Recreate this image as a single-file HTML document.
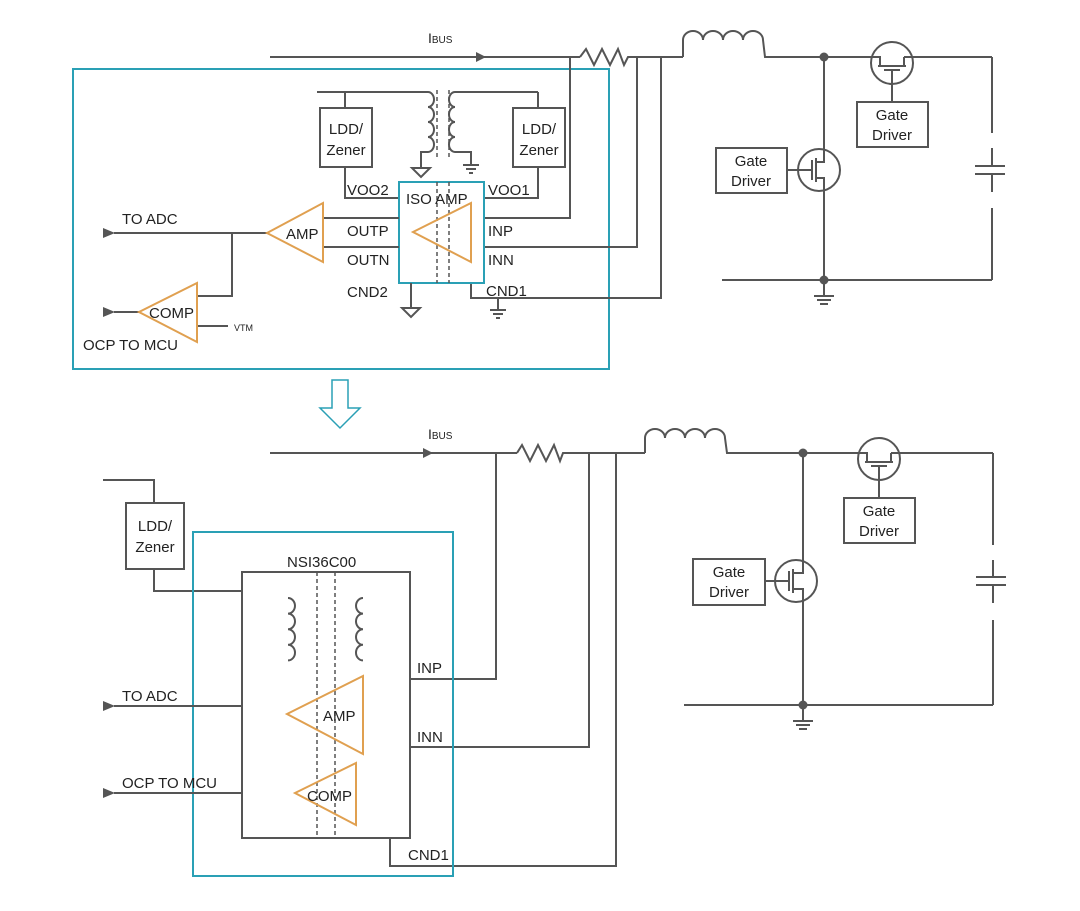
<!DOCTYPE html>
<html><head><meta charset="utf-8"><style>
html,body{margin:0;padding:0;background:#fff;}
svg{display:block;}
text{font-family:"Liberation Sans",Arial,sans-serif;fill:#222;}
</style></head><body>
<svg width="1080" height="911" viewBox="0 0 1080 911" xmlns="http://www.w3.org/2000/svg">
<defs>
<marker id="ar" markerWidth="12" markerHeight="10" refX="1" refY="5" orient="auto" markerUnits="userSpaceOnUse">
<path d="M12,0 L0,5 L12,10 z" fill="#555"/></marker>
</defs>
<g stroke="#555" stroke-width="2" fill="none">
<line x1="270" y1="57" x2="580" y2="57"/>
<path d="M476,52 L486,57 L476,62 z" fill="#555" stroke="none"/>
<path d="M580,57 L586,49 L594,65 L602,49 L610,65 L618,49 L624,65 L628,57 L683,57"/>
<path d="M683,57 L683,40 A10,9 0 0 1 703,40 A10,9 0 0 1 723,40 A10,9 0 0 1 743,40 A10,9 0 0 1 763,40 L765,57 L871,57"/>
<line x1="913" y1="57" x2="992" y2="57"/>
<line x1="992" y1="57" x2="992" y2="133"/>
<line x1="992" y1="208" x2="992" y2="280"/>
<line x1="975" y1="166" x2="1005" y2="166"/><line x1="975" y1="174" x2="1005" y2="174"/>
<line x1="992" y1="148" x2="992" y2="166"/><line x1="992" y1="174" x2="992" y2="192"/>
<line x1="722" y1="280" x2="992" y2="280"/>
<line x1="824" y1="57" x2="824" y2="149"/><line x1="824" y1="191" x2="824" y2="280"/>
<line x1="824" y1="280" x2="824" y2="296"/>
<line x1="814" y1="296" x2="834" y2="296"/><line x1="817" y1="300" x2="831" y2="300"/><line x1="820" y1="304" x2="828" y2="304"/>
<circle cx="892" cy="63" r="21"/>
<path d="M871,57 L880,57 L880,66 M904,57 L913,57 M904,57 L904,66 M878,66 L906,66 M884,70 L900,70 M892,70 L892,102"/>
<rect x="857" y="102" width="71" height="45"/>
<circle cx="819" cy="170" r="21"/>
<path d="M787,170 L812,170 M812,160 L812,180 M816,158 L816,182 M816,162 L824,162 L824,149 M816,178 L824,178 L824,191"/>
<rect x="716" y="148" width="71" height="45"/>
<rect x="73" y="69" width="536" height="300" stroke="#2aa0b5"/>
<path d="M570,57 L570,218 L484,218"/>
<path d="M637,57 L637,247 L484,247"/>
<path d="M661,57 L661,298 L471,298 L471,283"/>
<rect x="320" y="108" width="52" height="59"/>
<rect x="513" y="108" width="52" height="59"/>
<path d="M317,92 L428,92"/><path d="M455,92 L538,92"/>
<path d="M345,92 L345,108 M345,167 L345,198 L399,198"/>
<path d="M538,92 L538,108 M538,167 L538,198 L484,198"/>
<path d="M428,92 A6,7.5 0 0 1 428,107 A6,7.5 0 0 1 428,122 A6,7.5 0 0 1 428,137 A6,7.5 0 0 1 428,152"/>
<path d="M455,92 A6,7.5 0 0 0 455,107 A6,7.5 0 0 0 455,122 A6,7.5 0 0 0 455,137 A6,7.5 0 0 0 455,152"/>
<path d="M428,152 L421,152 L421,168"/><path d="M412,168 L430,168 L421,177 z"/>
<path d="M455,152 L471,152 L471,165"/>
<line x1="463" y1="165" x2="479" y2="165"/><line x1="466" y1="169" x2="476" y2="169"/><line x1="469" y1="173" x2="473" y2="173"/>
<line x1="437" y1="90" x2="437" y2="157" stroke-dasharray="4,3" stroke-width="1.5"/>
<line x1="449" y1="90" x2="449" y2="157" stroke-dasharray="4,3" stroke-width="1.5"/>
<rect x="399" y="182" width="85" height="101" stroke="#2aa0b5"/>
<line x1="437" y1="182" x2="437" y2="283" stroke-dasharray="4,3" stroke-width="1.5"/>
<line x1="449" y1="182" x2="449" y2="283" stroke-dasharray="4,3" stroke-width="1.5"/>
<path d="M411,283 L411,308"/><path d="M402,308 L420,308 L411,317 z"/>
<path d="M498,298 L498,310"/>
<line x1="490" y1="310" x2="506" y2="310"/><line x1="493" y1="314" x2="503" y2="314"/><line x1="496" y1="318" x2="500" y2="318"/>
<line x1="323" y1="218" x2="399" y2="218"/><line x1="323" y1="247" x2="399" y2="247"/>
<line x1="267" y1="233" x2="114" y2="233" marker-end="url(#ar)"/>
<path d="M232,233 L232,296 L197,296"/>
<line x1="139" y1="312" x2="114" y2="312" marker-end="url(#ar)"/>
<line x1="197" y1="326" x2="228" y2="326"/>
<path d="M332,380 L348,380 L348,408 L360,408 L340,428 L320,408 L332,408 z" stroke="#2aa0b5" stroke-width="1.5"/>

<line x1="270" y1="453" x2="517" y2="453"/>
<path d="M423,448 L433,453 L423,458 z" fill="#555" stroke="none"/>
<path d="M517,453 L522,445 L530,461 L538,445 L546,461 L554,445 L560,461 L563,453 L645,453"/>
<path d="M645,453 L645,438 A10,9 0 0 1 665,438 A10,9 0 0 1 685,438 A10,9 0 0 1 705,438 A10,9 0 0 1 725,438 L727,453 L858,453"/>
<line x1="900" y1="453" x2="993" y2="453"/>
<line x1="993" y1="453" x2="993" y2="545"/>
<line x1="993" y1="620" x2="993" y2="705"/>
<line x1="976" y1="577" x2="1006" y2="577"/><line x1="976" y1="585" x2="1006" y2="585"/>
<line x1="993" y1="560" x2="993" y2="577"/><line x1="993" y1="585" x2="993" y2="603"/>
<line x1="684" y1="705" x2="993" y2="705"/>
<line x1="803" y1="453" x2="803" y2="560"/><line x1="803" y1="602" x2="803" y2="705"/>
<line x1="803" y1="705" x2="803" y2="721"/>
<line x1="793" y1="721" x2="813" y2="721"/><line x1="796" y1="725" x2="810" y2="725"/><line x1="799" y1="729" x2="807" y2="729"/>
<circle cx="879" cy="459" r="21"/>
<path d="M858,453 L867,453 L867,462 M891,453 L900,453 M891,453 L891,462 M865,462 L893,462 M871,466 L887,466 M879,466 L879,498"/>
<rect x="844" y="498" width="71" height="45"/>
<circle cx="796" cy="581" r="21"/>
<path d="M765,581 L789,581 M789,571 L789,591 M793,569 L793,593 M793,573 L803,573 L803,560 M793,589 L803,589 L803,602"/>
<rect x="693" y="559" width="72" height="46"/>
<path d="M496,453 L496,679 L410,679"/>
<path d="M589,453 L589,747 L410,747"/>
<path d="M616,453 L616,866 L390,866 L390,838"/>
<path d="M103,480 L154,480 L154,503 M154,569 L154,591 L242,591"/>
<rect x="126" y="503" width="58" height="66"/>
<rect x="193" y="532" width="260" height="344" stroke="#2aa0b5"/>
<rect x="242" y="572" width="168" height="266"/>
<line x1="317" y1="572" x2="317" y2="838" stroke-dasharray="4,3" stroke-width="1.5"/>
<line x1="335" y1="572" x2="335" y2="838" stroke-dasharray="4,3" stroke-width="1.5"/>
<path d="M288,598 A7,7.8 0 0 1 288,613.6 A7,7.8 0 0 1 288,629.2 A7,7.8 0 0 1 288,644.8 A7,7.8 0 0 1 288,660.4"/>
<path d="M363,598 A7,7.8 0 0 0 363,613.6 A7,7.8 0 0 0 363,629.2 A7,7.8 0 0 0 363,644.8 A7,7.8 0 0 0 363,660.4"/>
<line x1="242" y1="706" x2="114" y2="706" marker-end="url(#ar)"/>
<line x1="242" y1="793" x2="114" y2="793" marker-end="url(#ar)"/>
</g>
<g fill="#555">
<circle cx="824" cy="57" r="4.5"/><circle cx="824" cy="280" r="4.5"/>
<circle cx="803" cy="453" r="4.5"/><circle cx="803" cy="705" r="4.5"/>
</g>
<g stroke="#e0a050" stroke-width="2" fill="none">
<path d="M413,232 L471,203 L471,262 z"/>
<path d="M267,233 L323,203 L323,262 z"/>
<path d="M139,312 L197,283 L197,342 z"/>
<path d="M287,714 L363,676 L363,754 z"/>
<path d="M295,793 L356,763 L356,825 z"/>
</g>
<g font-size="15">
<text x="428" y="43" font-size="14">I<tspan font-size="10">BUS</tspan></text>
<text x="346" y="134" text-anchor="middle">LDD/</text><text x="346" y="155" text-anchor="middle">Zener</text>
<text x="539" y="134" text-anchor="middle">LDD/</text><text x="539" y="155" text-anchor="middle">Zener</text>
<text x="347" y="195">VOO2</text><text x="406" y="204">ISO AMP</text><text x="488" y="195">VOO1</text>
<text x="347" y="236">OUTP</text><text x="488" y="236">INP</text>
<text x="347" y="265">OUTN</text><text x="488" y="265">INN</text>
<text x="347" y="297">CND2</text><text x="486" y="296">CND1</text>
<text x="286" y="239">AMP</text>
<text x="149" y="318">COMP</text>
<text x="234" y="331" font-size="9">VTM</text>
<text x="122" y="224">TO ADC</text>
<text x="83" y="350">OCP TO MCU</text>
<text x="892" y="120" text-anchor="middle">Gate</text><text x="892" y="140" text-anchor="middle">Driver</text>
<text x="751" y="166" text-anchor="middle">Gate</text><text x="751" y="186" text-anchor="middle">Driver</text>
<text x="428" y="439" font-size="14">I<tspan font-size="10">BUS</tspan></text>
<text x="155" y="531" text-anchor="middle">LDD/</text><text x="155" y="552" text-anchor="middle">Zener</text>
<text x="287" y="567">NSI36C00</text>
<text x="417" y="673">INP</text><text x="417" y="742">INN</text><text x="408" y="860">CND1</text>
<text x="323" y="721">AMP</text><text x="307" y="801">COMP</text>
<text x="122" y="701">TO ADC</text><text x="122" y="788">OCP TO MCU</text>
<text x="879" y="516" text-anchor="middle">Gate</text><text x="879" y="536" text-anchor="middle">Driver</text>
<text x="729" y="577" text-anchor="middle">Gate</text><text x="729" y="597" text-anchor="middle">Driver</text>
</g>
</svg>
</body></html>
